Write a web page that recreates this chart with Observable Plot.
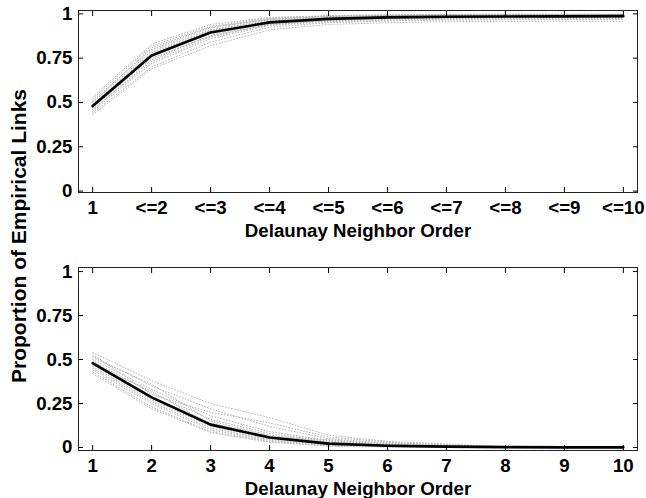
<!DOCTYPE html>
<html><head><meta charset="utf-8">
<script src="https://cdn.jsdelivr.net/npm/d3@7"></script>
<script src="https://cdn.jsdelivr.net/npm/@observablehq/plot@0.6"></script>
<style>
body{margin:0;background:#fff}
#wrap{position:relative;width:646px;height:498px;font-family:"Liberation Sans",Arial,Helvetica,sans-serif;font-weight:bold;background:#fff}
#top,#bot{position:absolute;left:0}
#top{top:0}
#bot{top:249px}
#ylab{position:absolute;left:18px;top:236px;transform:translate(-50%,-50%) rotate(-90deg);white-space:nowrap;font-size:21px;line-height:1;color:#000}
</style></head><body>
<div id="wrap"><div id="top"></div><div id="bot"></div><div id="ylab"></div></div>
<script>
const orders = [1,2,3,4,5,6,7,8,9,10];
const topTickLabels = ["1","<=2","<=3","<=4","<=5","<=6","<=7","<=8","<=9","<=10"];
const botTickLabels = ["1","2","3","4","5","6","7","8","9","10"];
const yTicks = [0,0.25,0.5,0.75,1];
const yTickLabels = ["0","0.25","0.5","0.75","1"];
const xTitle = "Delaunay Neighbor Order";
const yTitle = "Proportion of Empirical Links";

// cumulative proportion (top panel): mean and individual runs
const topMean = [0.48,0.765,0.895,0.952,0.972,0.980,0.984,0.985,0.986,0.987];
const topRuns = [
  [0.53,0.83,0.94,0.98,0.99,0.995,0.997,0.998,0.998,0.998],
  [0.51,0.80,0.92,0.97,0.985,0.99,0.993,0.995,0.996,0.996],
  [0.50,0.79,0.91,0.965,0.98,0.988,0.99,0.992,0.993,0.994],
  [0.49,0.78,0.905,0.96,0.978,0.985,0.988,0.99,0.99,0.991],
  [0.48,0.77,0.90,0.955,0.975,0.982,0.986,0.988,0.989,0.99],
  [0.47,0.76,0.89,0.95,0.97,0.978,0.982,0.984,0.985,0.986],
  [0.46,0.74,0.88,0.945,0.965,0.975,0.979,0.981,0.982,0.983],
  [0.45,0.72,0.86,0.935,0.955,0.965,0.97,0.972,0.973,0.974],
  [0.44,0.70,0.84,0.925,0.95,0.96,0.965,0.967,0.968,0.968],
  [0.52,0.82,0.93,0.975,0.988,0.993,0.995,0.996,0.997,0.997],
  [0.47,0.75,0.875,0.94,0.962,0.972,0.976,0.978,0.979,0.98],
  [0.43,0.69,0.82,0.91,0.94,0.95,0.955,0.957,0.958,0.958],
  [0.50,0.81,0.925,0.97,0.985,0.99,0.992,0.993,0.994,0.995],
  [0.46,0.73,0.87,0.94,0.96,0.97,0.975,0.977,0.978,0.979]
];

// proportion at each order (bottom panel): mean and individual runs
const botMean = [0.48,0.285,0.13,0.057,0.022,0.010,0.005,0.002,0.001,0.001];
const botRuns = [
  [0.54,0.38,0.25,0.17,0.07,0.035,0.02,0.005,0,0],
  [0.52,0.35,0.22,0.12,0.05,0.025,0.012,0.003,0,0],
  [0.50,0.33,0.18,0.09,0.04,0.02,0.008,0.002,0,0],
  [0.49,0.31,0.16,0.08,0.035,0.015,0.006,0.001,0,0],
  [0.48,0.29,0.14,0.065,0.03,0.012,0.005,0.001,0,0],
  [0.47,0.28,0.125,0.055,0.025,0.01,0.004,0,0,0],
  [0.46,0.27,0.12,0.05,0.02,0.008,0.003,0,0,0],
  [0.45,0.26,0.11,0.045,0.018,0.006,0.002,0,0,0],
  [0.44,0.25,0.10,0.04,0.015,0.005,0.001,0,0,0],
  [0.43,0.23,0.09,0.035,0.01,0.004,0.001,0,0,0],
  [0.42,0.22,0.085,0.03,0.008,0.003,0,0,0,0],
  [0.53,0.30,0.20,0.14,0.06,0.03,0.015,0.004,0,0],
  [0.51,0.36,0.15,0.07,0.03,0.01,0.004,0,0,0],
  [0.47,0.32,0.13,0.06,0.045,0.02,0.01,0.002,0,0]
];

const FONT = '"Liberation Sans",Arial,Helvetica,sans-serif';

function panel(mean, runs, xLabels, mTop, mBottom, yDomain) {
  const runRows = runs.flatMap((r, i) => r.map((v, j) => ({run: i, x: orders[j], y: v})));
  const meanRows = mean.map((v, j) => ({x: orders[j], y: v}));
  return Plot.plot({
    width: 646, height: 249,
    marginLeft: 78, marginRight: 9, marginTop: mTop, marginBottom: mBottom,
    style: {fontFamily: FONT, fontWeight: "bold", fontSize: "18.7px", color: "#000", background: "#fff"},
    x: {domain: [0.76, 10.24], label: null},
    y: {domain: yDomain, label: null},
    marks: [
      Plot.line(runRows, {x: "x", y: "y", z: "run", stroke: "#b0b0b0", strokeWidth: 0.9, strokeDasharray: "0.9 2.1"}),
      Plot.line(meanRows, {x: "x", y: "y", stroke: "#000", strokeWidth: 2.6}),
      Plot.frame({stroke: "#222", strokeWidth: 1}),
      Plot.axisY(yTicks, {anchor: "left", tickSize: 5, dx: 5, tickFormat: () => "", label: null}),
      Plot.axisY(yTicks, {anchor: "right", tickSize: 5, dx: -5, tickFormat: () => "", label: null}),
      Plot.axisX(orders, {anchor: "bottom", tickSize: 5, dy: -5, tickFormat: () => "", label: null}),
      Plot.axisX(orders, {anchor: "top", tickSize: 5, dy: 5, tickFormat: () => "", label: null}),
      Plot.axisY(yTicks, {anchor: "left", tickSize: 0, tickPadding: 6, tickFormat: d => yTickLabels[yTicks.indexOf(d)], label: null}),
      Plot.axisX(orders, {anchor: "bottom", tickSize: 0, tickPadding: 8, tickFormat: d => xLabels[orders.indexOf(d)], label: null}),
      Plot.text([xTitle], {text: d => d, frameAnchor: "bottom", dy: 31, lineAnchor: "top", fontSize: 18.7})
    ]
  });
}

document.getElementById("top").appendChild(panel(topMean, topRuns, topTickLabels, 10, 57, [-0.008, 1.019]));
document.getElementById("bot").appendChild(panel(botMean, botRuns, botTickLabels, 18, 48, [-0.017, 1.023]));
document.getElementById("ylab").textContent = yTitle;
</script>
</body></html>
